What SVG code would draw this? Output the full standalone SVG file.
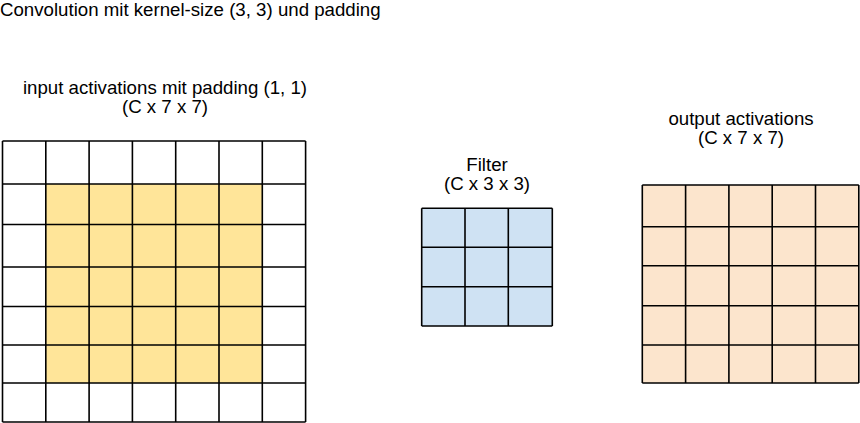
<svg xmlns="http://www.w3.org/2000/svg" width="860" height="423" viewBox="0 0 860 423">
<style>
text{font-family:"Liberation Sans",Arial,sans-serif;font-size:18.67px;fill:#000}
.g{stroke:#000;stroke-width:1.6;fill:none}
</style>
<rect width="860" height="423" fill="#fff"/>
<text x="0" y="16" id="title">Convolution mit kernel-size (3, 3) und padding</text>
<g id="input">
<text x="165" y="94" text-anchor="middle">input activations mit padding (1, 1)</text>
<text x="165" y="113" text-anchor="middle">(C x 7 x 7)</text>
<rect x="2.5" y="141" width="303" height="281" fill="#fff"/>
<rect x="45.8" y="184" width="216.5" height="199" fill="#FFE599"/>
<path class="g" d="M2.5 141H305.6M2.5 184H305.6M2.5 224.5H305.6M2.5 267H305.6M2.5 306.5H305.6M2.5 345H305.6M2.5 383H305.6M2.5 422H305.6M2.5 141V422M45.8 141V422M89.1 141V422M132.4 141V422M175.7 141V422M219 141V422M262.3 141V422M305.6 141V422"/>
</g>
<g id="filter">
<text x="487" y="171" text-anchor="middle">Filter</text>
<text x="487" y="190" text-anchor="middle">(C x 3 x 3)</text>
<rect x="421.7" y="208.3" width="130.6" height="117.7" fill="#CFE2F3"/>
<path class="g" d="M421.7 208.3H552.3M421.7 247.3H552.3M421.7 286.7H552.3M421.7 326H552.3M421.7 208.3V326M465 208.3V326M508.3 208.3V326M552.3 208.3V326"/>
</g>
<g id="output">
<text x="741" y="125" text-anchor="middle">output activations</text>
<text x="741" y="144" text-anchor="middle">(C x 7 x 7)</text>
<rect x="642.3" y="185" width="216.5" height="198" fill="#FCE5CD"/>
<path class="g" d="M642.3 185H858.8M642.3 226.7H858.8M642.3 265.7H858.8M642.3 305.7H858.8M642.3 345H858.8M642.3 383H858.8M642.3 185V383M685.6 185V383M728.9 185V383M772.2 185V383M815.5 185V383M858.8 185V383"/>
</g>
<g id="connectors"></g>
</svg>
